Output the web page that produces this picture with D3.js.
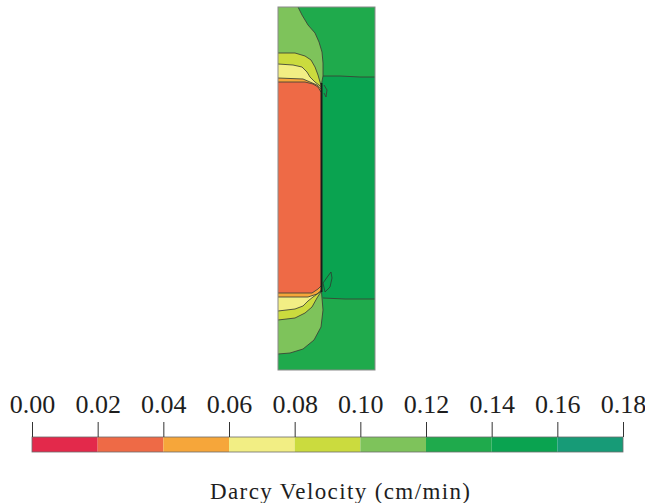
<!DOCTYPE html>
<html>
<head>
<meta charset="utf-8">
<script src="https://cdn.jsdelivr.net/npm/d3@7/dist/d3.min.js"></script>
<style>
  html, body { margin: 0; padding: 0; background: #ffffff; }
  svg { display: block; }
</style>
</head>
<body>
<svg id="chart" width="645" height="503"></svg>
<script>
// ---------------- DATA ----------------
// Colour-bar levels (Darcy velocity, cm/min)
const levels = [0.00, 0.02, 0.04, 0.06, 0.08, 0.10, 0.12, 0.14, 0.16, 0.18];
const bandColors = ["#e3294b", "#ee6a46", "#f6a63a", "#f2ee84", "#cbdb3e",
                    "#7ec35b", "#1faa4c", "#0aa350", "#179b77"];
const titleText = "Darcy Velocity (cm/min)";

// Model domain size (cm)
const domainWidth = 9.7;
const domainHeight = 36.3;

// Background velocity of the domain
const baseValue = 0.15;

// Right-hand bands above/below the horizontal contours (value, contour line)
const topBandValue = 0.13;
const topBandLine = [[4.5, 6.9], [6.2, 6.9], [8.2, 7.0], [9.7, 7.0]];
const bottomBandValue = 0.13;
const bottomBandLine = [[4.5, 29.1], [6.7, 29.2], [9.7, 29.2]];

// Nested regions in the left column (closed against the left wall x = 0)
const lightGreenValue = 0.11;
const lightGreenTop = [[2.0, 0], [2.4, 0.8], [3.0, 1.8], [3.7, 2.6], [4.1, 3.5], [4.4, 4.5], [4.5, 5.6], [4.5, 6.9], [4.35, 7.7]];
const lightGreenBottom = [[4.35, 28.5], [4.5, 30.3], [4.3, 32.0], [3.6, 33.3], [2.5, 34.2], [1.2, 34.6], [0, 34.7]];

const yellowGreenValue = 0.09;
const yellowGreenTop = [[0, 4.6], [1.7, 4.6], [2.7, 4.9], [3.3, 5.3], [3.7, 6.0], [4.0, 6.8], [4.2, 7.5], [4.35, 7.9]];
const yellowGreenBottom = [[4.35, 28.4], [3.9, 29.1], [3.4, 30.0], [2.7, 30.6], [1.7, 31.1], [0, 31.3]];

const lightYellowValue = 0.07;
const lightYellowTop = [[0, 5.7], [1.5, 5.8], [2.4, 6.0], [2.9, 6.5], [3.2, 7.0], [3.7, 7.5], [4.35, 8.0]];
const lightYellowBottom = [[4.35, 28.4], [3.5, 29.0], [3.0, 29.4], [2.5, 29.9], [1.7, 30.2], [0, 30.4]];

const orangeValue = 0.05;
const orangeTop = [[0, 7.1], [2.5, 7.2], [3.2, 7.5], [3.9, 7.8], [4.35, 8.2]];
const orangeBottom = [[4.35, 28.3], [3.9, 28.7], [3.0, 29.0], [0, 29.0]];

const coreValue = 0.03;
const coreTop = [[0, 7.5], [2.7, 7.5], [3.5, 7.7], [4.0, 8.0], [4.3, 8.5]];
const coreBottom = [[4.3, 27.9], [4.0, 28.2], [3.4, 28.6], [0, 28.6]];

// Small lobe near the lower corner of the core
const lobeValue = 0.15;
const lobe = [[4.5, 27.6], [5.0, 26.9], [5.3, 26.5], [5.4, 27.1], [5.2, 28.0], [4.7, 28.5]];
// Small contour fragment near the upper corner
const upperFragment = [[4.6, 7.8], [4.9, 8.3], [4.8, 9.0], [4.6, 8.6]];

// Interface (black line) between the column and the surrounding medium
const interfaceLine = [[4.35, 7.6], [4.35, 28.5]];

// ---------------- DRAWING ----------------
const svg = d3.select("#chart");
const serif = "'Liberation Serif', 'Times New Roman', Times, serif";

const x = d3.scaleLinear().domain([0, domainWidth]).range([278, 375]);
const y = d3.scaleLinear().domain([0, domainHeight]).range([7, 370]);

const color = d3.scaleThreshold()
  .domain(levels.slice(1, -1))
  .range(bandColors);

const line = d3.line().x(d => x(d[0])).y(d => y(d[1]));
const closed = d3.line().x(d => x(d[0])).y(d => y(d[1])).curve(d3.curveLinearClosed);

const plot = svg.append("g");

// base
plot.append("rect")
  .attr("x", x(0)).attr("y", y(0))
  .attr("width", x(domainWidth) - x(0)).attr("height", y(domainHeight) - y(0))
  .attr("fill", color(baseValue));

// top / bottom bands
const topPoly = [[0, 0], [domainWidth, 0]].concat(topBandLine.slice().reverse()).concat([[0, topBandLine[0][1]]]);
plot.append("path").attr("d", closed(topPoly)).attr("fill", color(topBandValue));
const botPoly = [[0, bottomBandLine[0][1]]].concat(bottomBandLine).concat([[domainWidth, domainHeight], [0, domainHeight]]);
plot.append("path").attr("d", closed(botPoly)).attr("fill", color(bottomBandValue));

// nested left regions
const regions = [
  { v: lightGreenValue, top: lightGreenTop, bottom: lightGreenBottom },
  { v: yellowGreenValue, top: yellowGreenTop, bottom: yellowGreenBottom },
  { v: lightYellowValue, top: lightYellowTop, bottom: lightYellowBottom },
  { v: orangeValue, top: orangeTop, bottom: orangeBottom },
  { v: coreValue, top: coreTop, bottom: coreBottom }
];
regions.forEach(r => {
  const pts = [[0, r.top[0][1]]].concat(r.top).concat(r.bottom).concat([[0, r.bottom[r.bottom.length - 1][1]]]);
  plot.append("path").attr("d", closed(pts)).attr("fill", color(r.v));
});

// lobe
plot.append("path").attr("d", closed(lobe)).attr("fill", color(lobeValue))
  .attr("stroke", "#2f3a30").attr("stroke-width", 0.8);

// contour lines
const contourStroke = "#3b3f35";
const lines = [topBandLine, bottomBandLine];
regions.forEach(r => { lines.push(r.top); lines.push(r.bottom); });
lines.push(upperFragment);
lines.forEach(l => {
  plot.append("path").attr("d", line(l))
    .attr("fill", "none").attr("stroke", contourStroke)
    .attr("stroke-width", 1).attr("stroke-opacity", 0.85);
});

// interface line
plot.append("path").attr("d", line(interfaceLine))
  .attr("fill", "none").attr("stroke", "#1a1a1a").attr("stroke-width", 2);

// domain border
plot.append("rect")
  .attr("x", x(0)).attr("y", y(0))
  .attr("width", x(domainWidth) - x(0)).attr("height", y(domainHeight) - y(0))
  .attr("fill", "none").attr("stroke", "#8a8a8a").attr("stroke-width", 1);

// ---------------- COLOUR BAR ----------------
const cb = d3.scaleLinear().domain([levels[0], levels[levels.length - 1]]).range([32, 623]);
const barTop = 437, barH = 15;
const bar = svg.append("g");
bar.selectAll("rect.seg")
  .data(d3.range(levels.length - 1))
  .join("rect")
  .attr("class", "seg")
  .attr("x", i => cb(levels[i]))
  .attr("y", barTop)
  .attr("width", i => cb(levels[i + 1]) - cb(levels[i]))
  .attr("height", barH)
  .attr("fill", i => bandColors[i]);
bar.append("rect")
  .attr("x", cb(levels[0])).attr("y", barTop)
  .attr("width", cb(levels[levels.length - 1]) - cb(levels[0])).attr("height", barH)
  .attr("fill", "none").attr("stroke", "#6d6d6d").attr("stroke-width", 0.8);

const axis = d3.axisTop(cb)
  .tickValues(levels)
  .tickSize(15)
  .tickPadding(9)
  .tickFormat(d3.format(".2f"));
const axG = svg.append("g").attr("transform", `translate(0,${barTop})`).call(axis);
axG.select(".domain").remove();
axG.selectAll(".tick line").attr("stroke", "#333").attr("stroke-width", 1);
axG.selectAll(".tick text")
  .attr("font-family", serif)
  .attr("font-size", 26)
  .attr("fill", "#1e1e1e");

svg.append("text")
  .attr("x", 340).attr("y", 499)
  .attr("text-anchor", "middle")
  .attr("font-family", serif)
  .attr("font-size", 23)
  .attr("textLength", 260)
  .attr("lengthAdjust", "spacing")
  .attr("fill", "#1e1e1e")
  .text(titleText);
</script>
</body>
</html>
